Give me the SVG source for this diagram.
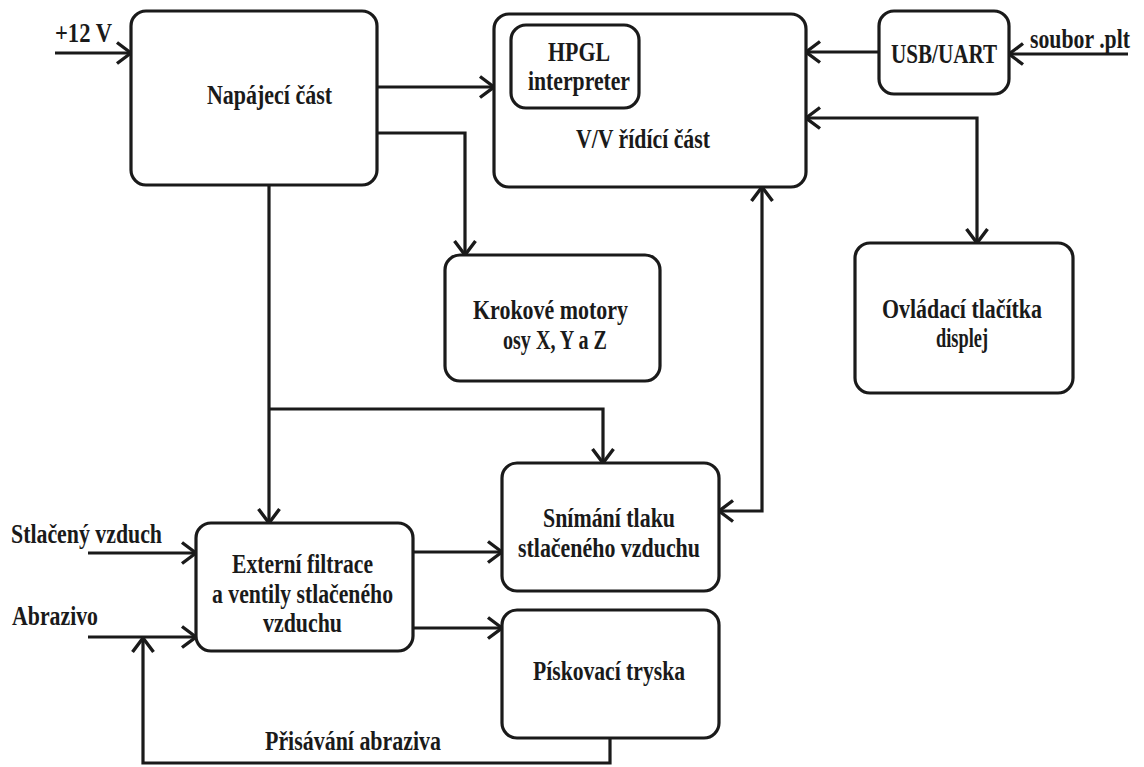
<svg xmlns="http://www.w3.org/2000/svg" width="1144" height="767" viewBox="0 0 1144 767">
  <style>
    .box { fill: #ffffff; stroke: #1a1a1a; stroke-width: 3.2; }
    .wire { fill: none; stroke: #1a1a1a; stroke-width: 3.2; stroke-linejoin: miter; }
    .lbl { font-family: "Liberation Serif", "Times New Roman", serif; font-weight: bold; font-size: 27px; fill: #1a1a1a; }
  </style>
  <defs>
    <marker id="arr" viewBox="0 0 18 24" refX="16" refY="12" markerWidth="18" markerHeight="24" markerUnits="userSpaceOnUse" orient="auto-start-reverse">
      <path d="M2,1.5 L16,12 L2,22.5" fill="none" stroke="#1a1a1a" stroke-width="3.4"/>
    </marker>
  </defs>
  <rect width="1144" height="767" fill="#ffffff"/>

  <g id="connectors">
    <path class="wire" d="M55,53 H131" marker-end="url(#arr)"/>
    <path class="wire" d="M377,87 H494" marker-end="url(#arr)"/>
    <path class="wire" d="M377,133 H465 V255" marker-end="url(#arr)"/>
    <path class="wire" d="M879,52 H806" marker-end="url(#arr)"/>
    <path class="wire" d="M1128,54 H1009" marker-end="url(#arr)"/>
    <path class="wire" d="M806,118 H977 V243" marker-start="url(#arr)" marker-end="url(#arr)"/>
    <path class="wire" d="M762,187 V511 H719" marker-start="url(#arr)" marker-end="url(#arr)"/>
    <path class="wire" d="M269,185 V523" marker-end="url(#arr)"/>
    <path class="wire" d="M269,409 H603 V463" marker-end="url(#arr)"/>
    <path class="wire" d="M413,552 H502" marker-end="url(#arr)"/>
    <path class="wire" d="M413,628 H502" marker-end="url(#arr)"/>
    <path class="wire" d="M88,553 H196" marker-end="url(#arr)"/>
    <path class="wire" d="M88,637 H196" marker-end="url(#arr)"/>
    <path class="wire" d="M610,738 V763 H143 V638" marker-end="url(#arr)"/>
  </g>

  <g id="edge-labels">
    <text class="lbl" x="55" y="42" textLength="57" lengthAdjust="spacingAndGlyphs">+12 V</text>
    <text class="lbl" x="1030" y="48" textLength="100" lengthAdjust="spacingAndGlyphs">soubor .plt</text>
    <text class="lbl" x="11" y="543" textLength="151" lengthAdjust="spacingAndGlyphs">Stlačený vzduch</text>
    <text class="lbl" x="12" y="625" textLength="86" lengthAdjust="spacingAndGlyphs">Abrazivo</text>
    <text class="lbl" x="265" y="750" textLength="176" lengthAdjust="spacingAndGlyphs">Přisávání abraziva</text>
  </g>

  <g id="napajeci">
    <rect class="box" x="131" y="11" width="246" height="174" rx="15"/>
    <text class="lbl" x="207" y="104" textLength="125" lengthAdjust="spacingAndGlyphs">Napájecí část</text>
  </g>

  <g id="ridici">
    <rect class="box" x="494" y="14" width="312" height="173" rx="15"/>
    <text class="lbl" x="576" y="148" textLength="134" lengthAdjust="spacingAndGlyphs">V/V řídící část</text>
  </g>

  <g id="hpgl">
    <rect class="box" x="511" y="25" width="128" height="83" rx="15"/>
    <text class="lbl" x="548" y="61" textLength="62" lengthAdjust="spacingAndGlyphs">HPGL</text>
    <text class="lbl" x="528" y="90" textLength="102" lengthAdjust="spacingAndGlyphs">interpreter</text>
  </g>

  <g id="usb">
    <rect class="box" x="879" y="11" width="130" height="83" rx="15"/>
    <text class="lbl" x="891" y="63" textLength="106" lengthAdjust="spacingAndGlyphs">USB/UART</text>
  </g>

  <g id="krokove">
    <rect class="box" x="445" y="255" width="215" height="126" rx="15"/>
    <text class="lbl" x="473" y="319" textLength="155" lengthAdjust="spacingAndGlyphs">Krokové motory</text>
    <text class="lbl" x="503" y="349" textLength="104" lengthAdjust="spacingAndGlyphs">osy X, Y a Z</text>
  </g>

  <g id="ovladaci">
    <rect class="box" x="855" y="243" width="218" height="150" rx="15"/>
    <text class="lbl" x="882" y="318" textLength="160" lengthAdjust="spacingAndGlyphs">Ovládací tlačítka</text>
    <text class="lbl" x="936" y="347" textLength="52" lengthAdjust="spacingAndGlyphs">displej</text>
  </g>

  <g id="externi">
    <rect class="box" x="196" y="523" width="217" height="128" rx="15"/>
    <text class="lbl" x="232" y="573" textLength="141" lengthAdjust="spacingAndGlyphs">Externí filtrace</text>
    <text class="lbl" x="212" y="603" textLength="181" lengthAdjust="spacingAndGlyphs">a ventily stlačeného</text>
    <text class="lbl" x="263" y="632" textLength="79" lengthAdjust="spacingAndGlyphs">vzduchu</text>
  </g>

  <g id="snimani">
    <rect class="box" x="502" y="463" width="217" height="128" rx="15"/>
    <text class="lbl" x="543" y="527" textLength="132" lengthAdjust="spacingAndGlyphs">Snímání tlaku</text>
    <text class="lbl" x="518" y="557" textLength="182" lengthAdjust="spacingAndGlyphs">stlačeného vzduchu</text>
  </g>

  <g id="piskovaci">
    <rect class="box" x="502" y="610" width="217" height="128" rx="15"/>
    <text class="lbl" x="533" y="680" textLength="152" lengthAdjust="spacingAndGlyphs">Pískovací tryska</text>
  </g>
</svg>
